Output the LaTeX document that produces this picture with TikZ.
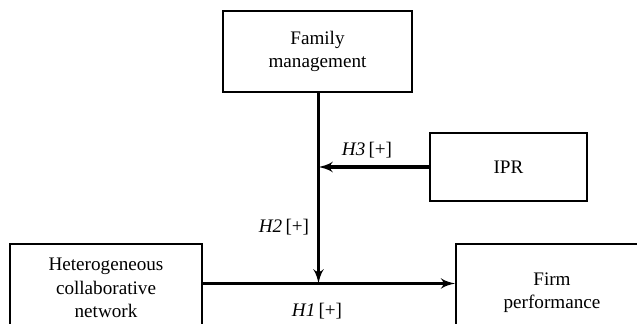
\documentclass[tikz,border=0pt]{standalone}
\usepackage{fontspec}
\setmainfont{Liberation Serif}
\usetikzlibrary{arrows,positioning}

\begin{document}
\begin{tikzpicture}[x=0.02cm,y=-0.02cm,>=latex',
	box/.style={draw,line width=1.1pt,align=center,font=\fontsize{10.9}{13.2}\selectfont},
	link/.style={->,line width=1.8pt,shorten >=0pt},
	hyp/.style={font=\fontsize{10.9}{13.2}\selectfont}]

\useasboundingbox (0,0) rectangle (637,324);
\clip (0,0) rectangle (637,324);

\node[box,minimum width=3.78cm,minimum height=1.62cm]   (fm) at (317.5,51.5)   {Family\\management};
\node[box,minimum width=3.14cm,minimum height=1.36cm]   (ipr) at (508.5,167)   {IPR};
\node[box,minimum width=3.84cm,minimum height=1.76cm]   (hcn) at (106,288)     {Heterogeneous\\collaborative\\network};
\node[box,minimum width=3.84cm,minimum height=1.96cm]   (firm) at (552,293)    {Firm\\performance};
\coordinate (jn) at (318.5,283.5);

	\draw[link] (hcn.east |- jn) -- (firm.west |- jn);
	\draw[link] (fm.south -| jn) -- (jn);
	\draw[link] (ipr.west) -- (ipr.west -| jn);

\node[hyp] (h1) at (317,311) {\textit{H1}\,[+]};
\node[hyp] (h2) at (284,227) {\textit{H2}\,[+]};
\node[hyp] (h3) at (367,150) {\textit{H3}\,[+]};

\end{tikzpicture}
\end{document}
